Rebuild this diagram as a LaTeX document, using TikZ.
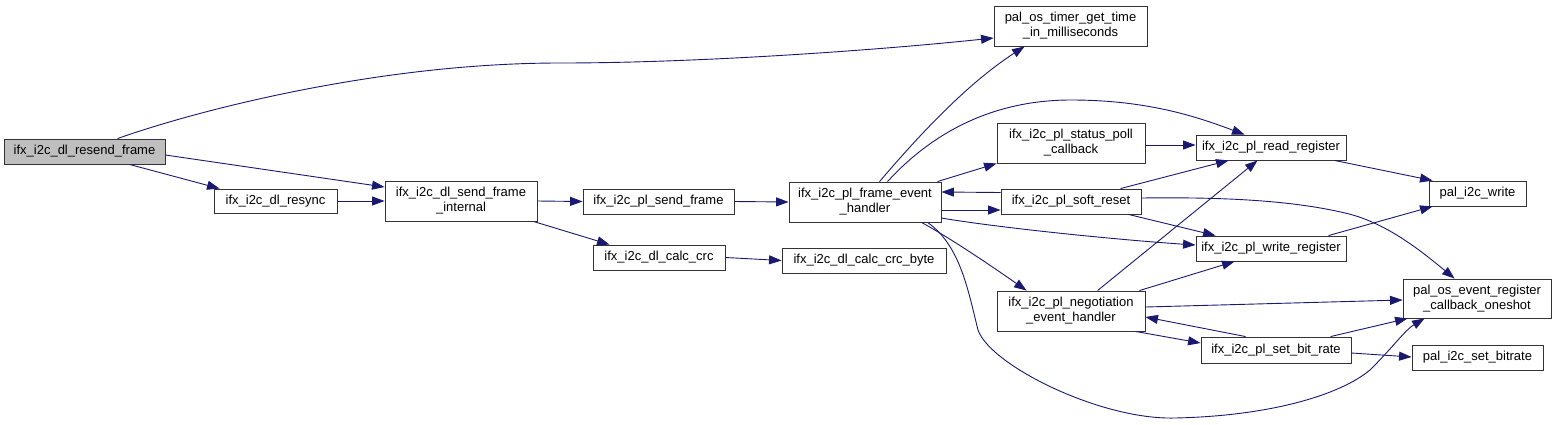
\documentclass[tikz,border=0pt]{standalone}
\usepackage{fontspec}
\setmainfont{Liberation Sans}
\usetikzlibrary{arrows.meta}
\definecolor{edgec}{HTML}{191970}
\definecolor{boxline}{HTML}{333333}
\definecolor{startfill}{HTML}{BFBFBF}
\begin{document}
\begin{tikzpicture}[x=1pt,y=-1pt,
  box/.style={draw=boxline, line width=0.9pt, fill=white, inner sep=0pt, align=center,
              font=\fontsize{13}{15}\selectfont},
  edge/.style={draw=edgec, line width=0.9pt, -{Triangle[length=12.5pt,width=9pt]}}]
\useasboundingbox (0,0) rectangle (1556,424);

% nodes
\node[box, fill=startfill, minimum width=161pt, minimum height=25pt] (resend) at (84.5,151.5) {ifx\_i2c\_dl\_resend\_frame};
\node[box, minimum width=123pt, minimum height=24pt] (resync) at (275.5,201) {ifx\_i2c\_dl\_resync};
\node[box, minimum width=152pt, minimum height=40pt] (sendint) at (461,201) {ifx\_i2c\_dl\_send\_frame\\\_internal};
\node[box, minimum width=151pt, minimum height=25pt] (plsend) at (658.5,201.5) {ifx\_i2c\_pl\_send\_frame};
\node[box, minimum width=132pt, minimum height=25pt] (crc) at (659,257.5) {ifx\_i2c\_dl\_calc\_crc};
\node[box, minimum width=164pt, minimum height=25pt] (crcbyte) at (864,260.5) {ifx\_i2c\_dl\_calc\_crc\_byte};
\node[box, minimum width=152pt, minimum height=40pt] (frame) at (865,202) {ifx\_i2c\_pl\_frame\_event\\\_handler};
\node[box, minimum width=153pt, minimum height=40pt] (timer) at (1070.5,26) {pal\_os\_timer\_get\_time\\\_in\_milliseconds};
\node[box, minimum width=148pt, minimum height=40pt] (poll) at (1071,143) {ifx\_i2c\_pl\_status\_poll\\\_callback};
\node[box, minimum width=140pt, minimum height=25pt] (soft) at (1071,201.5) {ifx\_i2c\_pl\_soft\_reset};
\node[box, minimum width=148pt, minimum height=40pt] (nego) at (1071,311) {ifx\_i2c\_pl\_negotiation\\\_event\_handler};
\node[box, minimum width=150pt, minimum height=25pt] (read) at (1271,147.5) {ifx\_i2c\_pl\_read\_register};
\node[box, minimum width=150pt, minimum height=25pt] (write) at (1271,248.5) {ifx\_i2c\_pl\_write\_register};
\node[box, minimum width=150pt, minimum height=26pt] (setbit) at (1276,350) {ifx\_i2c\_pl\_set\_bit\_rate};
\node[box, minimum width=97pt, minimum height=25pt] (i2cw) at (1477.5,193.5) {pal\_i2c\_write};
\node[box, minimum width=148pt, minimum height=39pt] (oneshot) at (1477,298.5) {pal\_os\_event\_register\\\_callback\_oneshot};
\node[box, minimum width=131pt, minimum height=25pt] (setbr) at (1477.5,357.5) {pal\_i2c\_set\_bitrate};

% edges
\draw[edge] ([xshift=114pt]resend.north west) .. controls (198,110) and (380,63) .. (560,63)
            .. controls (700,63) and (880,50) .. ([yshift=-12pt]timer.west);
\draw[edge] ([yshift=-3.5pt]resend.east) -- ([yshift=14pt]sendint.west);
\draw[edge] ([xshift=126pt]resend.south west) -- ([xshift=6pt]resync.north west);
\draw[edge] (resync.east) -- (sendint.west);
\draw[edge] (sendint.east) -- (plsend.west);
\draw[edge] ([xshift=-4pt]sendint.south east) -- ([xshift=17pt]crc.north west);
\draw[edge] (plsend.east) -- (frame.west);
\draw[edge] (crc.east) -- (crcbyte.west);
\draw[edge] ([xshift=91pt]frame.north west) .. controls (915,140) and (965,85) .. ([xshift=31pt]timer.south west);
\draw[edge] ([xshift=99pt]frame.north west) .. controls (930,135) and (990,100) .. (1071,100)
            .. controls (1150,100) and (1200,118) .. ([xshift=49pt]read.north west);
\draw[edge] ([xshift=-4pt]frame.north east) -- (poll.south west);
\draw[edge] ([yshift=9pt]soft.west) -- ([yshift=10pt]frame.east);
\draw[edge] ([yshift=-8pt]frame.east) -- ([yshift=-8.5pt]soft.west);
\draw[edge] ([yshift=-16pt]frame.east) .. controls (1000,228) and (1120,240) .. ([yshift=3.5pt]write.west);
\draw[edge] ([xshift=133pt]frame.south west) .. controls (950,238) and (990,265) .. ([xshift=30pt]nego.north west);
\draw[edge] ([xshift=139pt]frame.south west) .. controls (960,245) and (968,290) .. (978,330)
            .. controls (990,365) and (1100,420) .. (1175,418)
            .. controls (1270,416) and (1340,395) .. (1370,370)
            .. controls (1395,345) and (1405,330) .. ([xshift=22pt]oneshot.south west);
\draw[edge] ([yshift=-2pt]poll.east) -- ([yshift=2.5pt]read.west);
\draw[edge] ([xshift=120pt]soft.north west) -- ([xshift=33pt]read.south west);
\draw[edge] ([xshift=128pt]soft.south west) -- ([xshift=20pt]write.north west);
\draw[edge] ([yshift=3.5pt]soft.east) .. controls (1220,197) and (1290,200) .. (1345,213)
            .. controls (1385,222) and (1420,250) .. ([xshift=52pt]oneshot.north west);
\draw[edge] ([xshift=101pt]nego.north west) -- ([xshift=62pt]read.south west);
\draw[edge] ([xshift=-6pt]nego.north east) -- ([xshift=39pt]write.south west);
\draw[edge] ([yshift=4pt]nego.east) -- ([yshift=-1.5pt]oneshot.west);
\draw[edge] ([xshift=-10pt]nego.south east) -- ([yshift=7pt]setbit.west);
\draw[edge] ([xshift=45pt]setbit.north west) -- ([yshift=-6pt]nego.east);
\draw[edge] ([xshift=130pt]setbit.north west) -- ([xshift=5pt]oneshot.south west);
\draw[edge] ([yshift=-3pt]setbit.east) -- ([yshift=0.5pt]setbr.west);
\draw[edge] ([xshift=139pt]read.south west) -- ([xshift=4pt]i2cw.north west);
\draw[edge] ([xshift=133pt]write.north west) -- ([xshift=4pt]i2cw.south west);
\end{tikzpicture}
\end{document}
